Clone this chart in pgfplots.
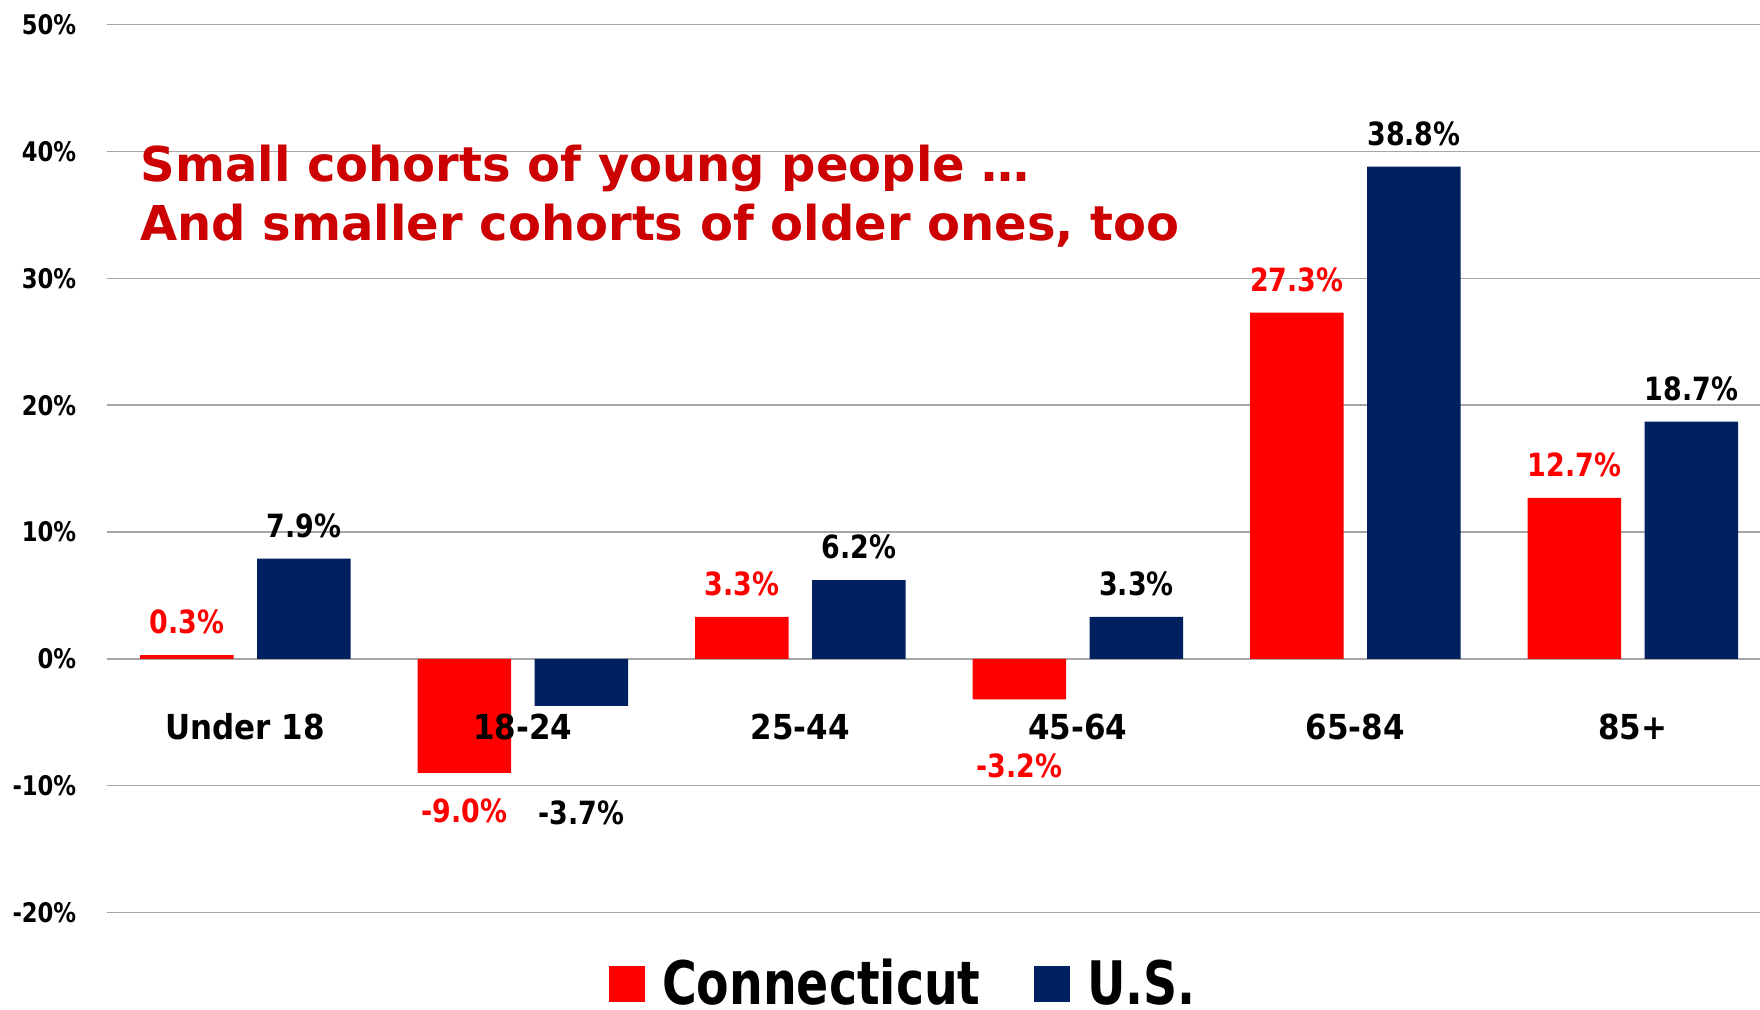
\documentclass[border=0pt]{standalone}
\usepackage{fontspec}
\usepackage{pgfplots}
\usepackage{pgfplotstable}
\pgfplotsset{compat=1.18}
\setmainfont{DejaVu Sans}
\newfontfamily\titlefont{DejaVu Sans}
\newfontfamily\datafont[FakeStretch=0.84]{DejaVu Sans}
\newfontfamily\legfont[FakeStretch=0.79]{DejaVu Sans}
\newfontfamily\catfont[FakeStretch=0.90]{DejaVu Sans}
\newfontfamily\tickfont[FakeStretch=0.84]{DejaVu Sans}
\definecolor{ctred}{HTML}{FF0000}
\definecolor{usnavy}{HTML}{002060}
\definecolor{titlered}{HTML}{CC0000}
\definecolor{gridgray}{HTML}{A6A6A6}
% x, value, extra label shift (pt)
\pgfplotstableread{
x y off
0 0.3 0
1 -9.0 -2.2
2 3.3 0
3 -3.2 -16.9
4 27.3 0
5 12.7 0
}\ctdata
\pgfplotstableread{
x y off
0 7.9 0
1 -3.7 -37.1
2 6.2 0
3 3.3 0
4 38.8 0
5 18.7 0
}\usdata
\begin{document}
\begin{tikzpicture}
\begin{axis}[
  at={(0pt,0pt)}, anchor=south west,
  scale only axis,
  width=826.7pt, height=443.9pt,
  xmin=-0.5, xmax=5.458,
  ymin=-20, ymax=50,
  ytick={-20,-10,0,10,20,30,40,50},
  xtick=\empty,
  ybar,
  bar width=0.337,
  clip=false,
  axis line style={draw=none},
  major tick length=0pt,
  ymajorgrids,
  grid style={gridgray, line width=0.8pt},
  /pgf/number format/assume math mode=true,
  yticklabel={\pgfmathprintnumber{\tick}\%},
  yticklabel style={font=\tickfont\bfseries\fontsize{13.5}{16}\selectfont, anchor=east, inner sep=0pt, xshift=-15pt},
  visualization depends on={\thisrow{off} \as \labeloff},
  nodes near coords={\pgfmathprintnumber[fixed,fixed zerofill,precision=1]{\pgfplotspointmeta}\%},
  every node near coord/.append style={font=\datafont\bfseries\fontsize{16}{19}\selectfont, inner xsep=0pt, inner ysep=10.3pt, yshift=\labeloff pt},
  legend style={
    at={(axis description cs:0.4865,-0.0800)}, anchor=center,
    draw=none, fill=none,
    legend columns=2,
    font=\legfont\bfseries\fontsize{30}{34}\selectfont,
    /tikz/every even column/.append style={column sep=18.5pt},
    nodes={inner xsep=8.4pt, inner ysep=0pt},
  },
]
\addplot[fill=ctred, draw=none, bar shift=-0.211,
  every node near coord/.append style={text=ctred},
  legend image code/.code={\fill[ctred] (0pt,-9pt) rectangle (18pt,9pt);}]
  table[x=x, y=y] {\ctdata};
\addlegendentry{Connecticut}
\addplot[fill=usnavy, draw=none, bar shift=0.211,
  every node near coord/.append style={text=black},
  legend image code/.code={\fill[usnavy] (0pt,-9pt) rectangle (18pt,9pt);}]
  table[x=x, y=y] {\usdata};
\addlegendentry{U.S.}

\node[font=\catfont\bfseries\fontsize{17.2}{20}\selectfont] at (axis cs:0,-5.37) {Under 18};
\node[font=\catfont\bfseries\fontsize{17.2}{20}\selectfont] at (axis cs:1,-5.37) {18-24};
\node[font=\catfont\bfseries\fontsize{17.2}{20}\selectfont] at (axis cs:2,-5.37) {25-44};
\node[font=\catfont\bfseries\fontsize{17.2}{20}\selectfont] at (axis cs:3,-5.37) {45-64};
\node[font=\catfont\bfseries\fontsize{17.2}{20}\selectfont] at (axis cs:4,-5.37) {65-84};
\node[font=\catfont\bfseries\fontsize{17.2}{20}\selectfont] at (axis cs:5,-5.37) {85+};

\node[anchor=base west, inner sep=0pt, text=titlered, font=\titlefont\bfseries\fontsize{24}{29}\selectfont] at (axis cs:-0.379,37.63) {Small cohorts of young people …};
\node[anchor=base west, inner sep=0pt, text=titlered, font=\titlefont\bfseries\fontsize{24}{29}\selectfont] at (axis cs:-0.379,33.0) {And smaller cohorts of older ones, too};
\end{axis}
\pgfresetboundingbox
\path (-53.3pt,-48.75pt) rectangle (826.7pt,456.25pt);
\end{tikzpicture}
\end{document}
